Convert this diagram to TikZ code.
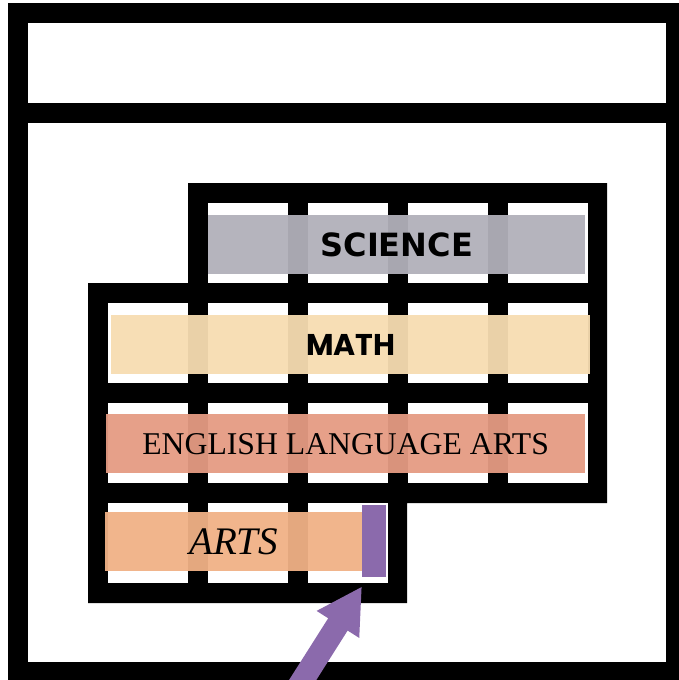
\documentclass[tikz,border=0pt]{standalone}
\usepackage{fontspec}
\setmainfont{Liberation Serif}
\newfontfamily\sciencefont{DejaVu Sans}
\newfontfamily\mathbarfont{Poppins}
\usetikzlibrary{arrows.meta,calc}
\definecolor{sciencegray}{RGB}{178,176,186}
\definecolor{mathtan}{RGB}{247,221,178}
\definecolor{elasalmon}{RGB}{229,155,131}
\definecolor{artsorange}{RGB}{241,178,134}
\definecolor{markpurple}{RGB}{139,106,172}
\tikzset{
  frameline/.style={draw=black,line width=20pt},
  cell/.style={rectangle,fill=white,minimum size=80pt,inner sep=0pt,anchor=north west},
  subjectbar/.style={rectangle,inner sep=0pt,anchor=north west,minimum height=59pt,
    fill opacity=0.95,text opacity=1},
  marker/.style={rectangle,fill=markpurple,inner sep=0pt,anchor=north west,
    minimum width=24pt,minimum height=72pt},
  pointer/.style={draw=markpurple,line width=23pt,-{Triangle[length=45pt,width=47pt]}}
}

\begin{document}
\begin{tikzpicture}[x=1pt,y=-1pt]
  \useasboundingbox (0,0) rectangle (679,680);
  \clip (0,0) rectangle (679,680);
  % page frame and header strip
  \draw[frameline] (18,13) rectangle (676,672);
  \draw[frameline] (18,113) -- (676,113);
  % black grid body
  \fill[black] (188,183) -- (607,183) -- (607,503) -- (407,503) -- (407,603)
    -- (88,603) -- (88,283) -- (188,283) -- cycle;
  \foreach \y/\cols in {203/{1,2,3,4},303/{0,1,2,3,4},403/{0,1,2,3,4},503/{0,1,2}}
    \foreach \c in \cols
      \node[cell] (cell-\y-\c) at ({108+100*\c},\y) {};
  % subject bars
  \node[subjectbar,fill=sciencegray,minimum width=377pt,
    font=\sciencefont\bfseries\fontsize{32}{36}\selectfont] (science) at (208,215) {SCIENCE};
  \node[subjectbar,fill=mathtan,minimum width=479pt,
    font=\mathbarfont\bfseries\fontsize{30}{36}\selectfont] (math) at (111,315) {MATH};
  \node[subjectbar,fill=elasalmon,minimum width=479pt,
    font=\fontsize{31.7}{36}\selectfont] (ela) at (106,414) {ENGLISH LANGUAGE ARTS};
  \node[subjectbar,fill=artsorange,minimum width=257pt,
    font=\itshape\fontsize{39}{42}\selectfont] (arts) at (105,512) {ARTS};
  \node[marker] (mark) at (362,505) {};
  % pointer up to the marker
  \coordinate (tail) at (290,700);
  \draw[pointer] (tail) -- ($(mark.south west)+(0,9)$);
\end{tikzpicture}
\end{document}
